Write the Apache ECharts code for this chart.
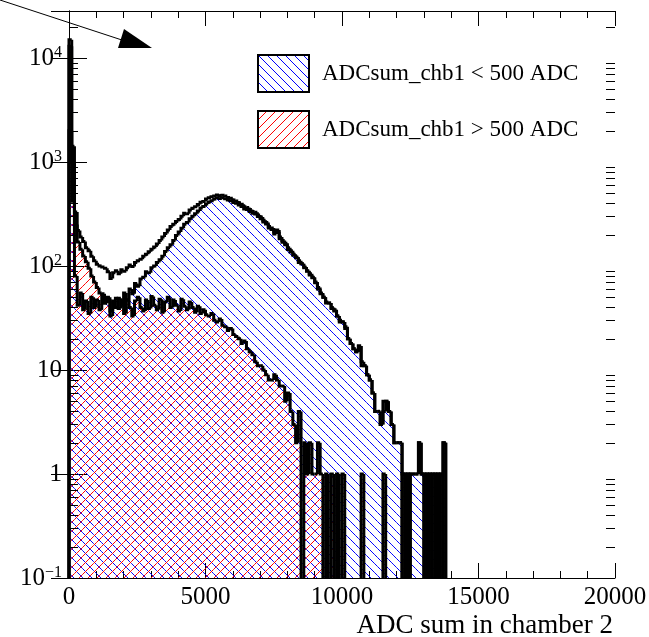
<!DOCTYPE html>
<html>
<head>
<meta charset="utf-8">
<title>ADC sum in chamber 2</title>
<script src="https://cdn.jsdelivr.net/npm/echarts@6/dist/echarts.min.js"></script>
<style>
  html, body { margin: 0; padding: 0; background: #fff; }
  #chart { width: 649px; height: 637px; }
</style>
</head>
<body>
<div id="chart"></div>
<script>
// histogram bins: 100 ADC wide, starting at 0
const binWidth = 100;

// all events
const totalCounts = [
  15000, 1420, 330, 220, 190, 172, 150, 140, 124, 112,
  104, 100, 98, 95, 88, 76, 86, 90, 84, 92,
  89, 96, 102, 99, 108, 112, 116, 124, 130, 137,
  145, 152, 163, 176, 190, 205, 222, 240, 252, 268,
  280, 300, 322, 318, 345, 360, 372, 390, 410, 418,
  440, 452, 462, 470, 482, 476, 480, 470, 455, 448,
  430, 422, 405, 392, 372, 365, 350, 335, 328, 310,
  296, 275, 262, 240, 232, 212, 222, 190, 176, 165,
  150, 140, 130, 122, 112, 105, 98, 90, 84, 78,
  70, 62, 55, 50, 45, 44, 40, 38, 33, 30,
  29, 26, 20, 18, 16, 15, 17, 12, 11, 9,
  8, 6, 4, 4, 3, 5, 5, 4, 3, 2,
  2, 2, 1, 1, 1, 1, 1, 1, 2, 1,
  1, 1, 1, 1, 1, 1, 1, 2, 0, 0
];

// ADCsum_chb1 < 500 ADC
const lowChb1Counts = [
  13000, 1000, 80, 42, 55, 38, 46, 35, 50, 40,
  47, 38, 52, 44, 50, 33, 46, 40, 49, 42,
  55, 47, 60, 54, 68, 64, 75, 78, 88, 86,
  96, 100, 108, 115, 124, 138, 150, 160, 176, 196,
  212, 230, 252, 262, 285, 300, 318, 338, 362, 374,
  395, 412, 425, 440, 453, 445, 453, 444, 431, 423,
  408, 401, 385, 374, 353, 349, 335, 321, 316, 299,
  285, 265, 253, 232, 224, 203, 214, 183, 169, 160,
  144, 136, 127, 120, 108, 105, 96, 89, 82, 77,
  69, 60, 54, 50, 44, 44, 39, 37, 33, 29,
  29, 25, 20, 18, 16, 15, 17, 11, 11, 9,
  8, 6, 4, 4, 3, 4, 5, 4, 3, 2,
  2, 2, 0, 1, 0, 1, 1, 1, 2, 1,
  0, 1, 0, 1, 0, 1, 0, 2, 0, 0
];

// ADCsum_chb1 > 500 ADC
const highChb1Counts = [
  2000, 420, 250, 170, 145, 125, 110, 95, 80, 70,
  62, 55, 54, 44, 48, 37, 45, 49, 39, 46,
  35, 47, 40, 33, 46, 50, 40, 37, 47, 39,
  51, 42, 38, 48, 36, 45, 50, 40, 47, 42,
  37, 48, 41, 38, 45, 40, 36, 41, 35, 38,
  34, 33, 35, 30, 29, 31, 27, 26, 24, 25,
  22, 21, 20, 18, 19, 16, 15, 14, 12, 11,
  11, 10, 9, 8, 8, 9, 8, 7, 7, 5,
  6, 4, 3, 2, 4, 0, 2, 1, 2, 1,
  1, 2, 1, 0, 1, 0, 1, 0, 1, 0,
  1, 0, 0, 0, 0, 0, 0, 1, 0, 0,
  0, 0, 0, 0, 0, 1, 0, 0, 0, 0,
  0, 0, 1, 0, 1, 0, 0, 0, 0, 0,
  1, 0, 1, 0, 1, 0, 1, 0, 0, 0
];

const legendNames = ['ADCsum_chb1 < 500 ADC', 'ADCsum_chb1 > 500 ADC'];
const xAxisTitle = 'ADC sum in chamber 2';
const yMin = 0.1;
const yMax = 28300;

const FONT = 'Liberation Serif';

// hatch patterns like ROOT fill styles 3004 / 3005
function hatch(color, backslash) {
  const s = 9;
  const c = document.createElement('canvas');
  c.width = s;
  c.height = s;
  const ctx = c.getContext('2d');
  ctx.strokeStyle = color;
  ctx.lineWidth = 1;
  ctx.beginPath();
  if (backslash) {
    ctx.moveTo(-1, -1); ctx.lineTo(s + 1, s + 1);
    ctx.moveTo(-1, s - 1); ctx.lineTo(1, s + 1);
    ctx.moveTo(s - 1, -1); ctx.lineTo(s + 1, 1);
  } else {
    ctx.moveTo(-1, s + 1); ctx.lineTo(s + 1, -1);
    ctx.moveTo(-1, 1); ctx.lineTo(1, -1);
    ctx.moveTo(s - 1, s + 1); ctx.lineTo(s + 1, s - 1);
  }
  ctx.stroke();
  return { image: c, repeat: 'repeat' };
}

const bluePattern = hatch('#0000ff', true);
const redPattern = hatch('#ff0000', false);

function toBins(counts) {
  return counts.map((c, i) => [i * binWidth, (i + 1) * binWidth, c]);
}

// draws one bin: hatched body plus the step outline
function histRenderer(counts, fill) {
  return function (params, api) {
    const i = params.dataIndex;
    const cs = params.coordSys;
    const top = cs.y;
    const bottom = cs.y + cs.height;
    const yOf = (v) => (v > 0 ? Math.max(top, Math.min(bottom, api.coord([0, v])[1])) : bottom);
    const x0 = api.coord([api.value(0), 1])[0];
    const x1 = api.coord([api.value(1), 1])[0];
    const v = api.value(2);
    const prev = i > 0 ? counts[i - 1] : 0;
    const y = yOf(v);
    const yp = yOf(prev);
    const children = [];
    if (fill && v > 0) {
      children.push({
        type: 'rect',
        shape: { x: x0, y: y, width: x1 - x0, height: bottom - y },
        style: { fill: fill },
        z2: 0
      });
    }
    const pts = [];
    if (v > 0 || prev > 0) pts.push([x0, yp], [x0, y]);
    if (v > 0) pts.push([x1, y]);
    if (pts.length > 1) {
      children.push({
        type: 'polyline',
        shape: { points: pts },
        style: { stroke: '#000', lineWidth: 3, fill: 'none' },
        z2: 10
      });
    }
    return { type: 'group', children: children };
  };
}

// ROOT-like minor ticks (2..9 per decade) on both log axes
const minorTickValues = [];
for (let e = -1; e <= 4; e++) {
  for (let m = 2; m <= 9; m++) {
    const v = m * Math.pow(10, e);
    if (v < yMax) minorTickValues.push([0, v]);
  }
}

function logLabel(v) {
  const l = Math.log10(v);
  const e = Math.round(l);
  if (Math.abs(l - e) > 0.01) return '';
  if (e === 0) return '{b|1}';
  if (e === 1) return '{b|10}';
  return '{b|10}{s|' + (e < 0 ? '\u2212' : '') + Math.abs(e) + '}';
}

const chart = echarts.init(document.getElementById('chart'), null, { renderer: 'canvas' });

const axisLine = { show: true, lineStyle: { color: '#000', width: 1 } };

const option = {
  animation: false,
  backgroundColor: '#fff',
  title: {
    text: xAxisTitle,
    right: 36,
    top: 612,
    padding: 0,
    textStyle: { fontFamily: FONT, fontSize: 27, fontWeight: 'normal', color: '#000', lineHeight: 27 }
  },
  grid: { left: 69, right: 34, top: 11, bottom: 59, containLabel: false, outerBoundsMode: 'none' },
  legend: {
    orient: 'vertical',
    left: 257,
    top: 54,
    padding: 0,
    itemWidth: 51,
    itemHeight: 37,
    itemGap: 17,
    icon: 'rect',
    selectedMode: false,
    textStyle: { fontFamily: FONT, fontSize: 23, color: '#000', padding: [0, 0, 0, 8] },
    data: [
      { name: legendNames[0], itemStyle: { color: bluePattern, borderColor: '#000', borderWidth: 2 } },
      { name: legendNames[1], itemStyle: { color: redPattern, borderColor: '#000', borderWidth: 2 } }
    ]
  },
  xAxis: [
    {
      type: 'value',
      min: 0,
      max: 20000,
      interval: 5000,
      position: 'bottom',
      axisLine: axisLine,
      axisTick: { show: true, inside: true, length: 15, lineStyle: { color: '#000' } },
      minorTick: { show: true, splitNumber: 5, length: 7, lineStyle: { color: '#000' } },
      splitLine: { show: false },
      axisLabel: { fontFamily: FONT, fontSize: 25, color: '#000', margin: 7, formatter: (v) => String(v) }
    },
    {
      type: 'value',
      min: 0,
      max: 20000,
      interval: 5000,
      position: 'top',
      axisLine: axisLine,
      axisTick: { show: true, inside: true, length: 15, lineStyle: { color: '#000' } },
      minorTick: { show: true, splitNumber: 5, length: 7, lineStyle: { color: '#000' } },
      splitLine: { show: false },
      axisLabel: { show: false }
    }
  ],
  yAxis: [
    {
      type: 'log',
      logBase: 10,
      min: yMin,
      max: yMax,
      position: 'left',
      axisLine: axisLine,
      axisTick: { show: true, inside: true, length: 18, lineStyle: { color: '#000' } },
      splitLine: { show: false },
      axisLabel: {
        margin: 7,
        formatter: logLabel,
        rich: {
          b: { fontFamily: FONT, fontSize: 25, color: '#000', lineHeight: 26 },
          s: { fontFamily: FONT, fontSize: 16, color: '#000', verticalAlign: 'top', lineHeight: 16 }
        }
      }
    },
    {
      type: 'log',
      logBase: 10,
      min: yMin,
      max: yMax,
      position: 'right',
      axisLine: axisLine,
      axisTick: { show: true, inside: true, length: 18, lineStyle: { color: '#000' } },
      splitLine: { show: false },
      axisLabel: { show: false }
    }
  ],
  graphic: [
    {
      type: 'line',
      shape: { x1: 0, y1: 0, x2: 128, y2: 42 },
      style: { stroke: '#000', lineWidth: 1 },
      z: 100
    },
    {
      type: 'polygon',
      shape: { points: [[118, 48], [124, 29], [152, 48]] },
      style: { fill: '#000' },
      z: 100
    }
  ],
  series: [
    {
      name: 'total',
      type: 'custom',
      silent: true,
      z: 2,
      data: toBins(totalCounts),
      encode: { x: [0, 1], y: 2 },
      renderItem: histRenderer(totalCounts, null)
    },
    {
      name: legendNames[0],
      type: 'custom',
      silent: true,
      z: 2,
      itemStyle: { color: bluePattern },
      data: toBins(lowChb1Counts),
      encode: { x: [0, 1], y: 2 },
      renderItem: histRenderer(lowChb1Counts, bluePattern)
    },
    {
      name: legendNames[1],
      type: 'custom',
      silent: true,
      z: 2,
      itemStyle: { color: redPattern },
      data: toBins(highChb1Counts),
      encode: { x: [0, 1], y: 2 },
      renderItem: histRenderer(highChb1Counts, redPattern)
    },
    {
      name: 'minor ticks',
      type: 'custom',
      silent: true,
      z: 3,
      data: minorTickValues,
      encode: { x: 0, y: 1 },
      renderItem: function (params, api) {
        const cs = params.coordSys;
        const y = Math.round(api.coord([0, api.value(1)])[1]) + 0.5;
        return {
          type: 'group',
          children: [
            { type: 'line', shape: { x1: cs.x, y1: y, x2: cs.x + 9, y2: y }, style: { stroke: '#000', lineWidth: 1 } },
            { type: 'line', shape: { x1: cs.x + cs.width - 9, y1: y, x2: cs.x + cs.width, y2: y }, style: { stroke: '#000', lineWidth: 1 } }
          ]
        };
      }
    }
  ]
};

chart.setOption(option);
</script>
</body>
</html>
